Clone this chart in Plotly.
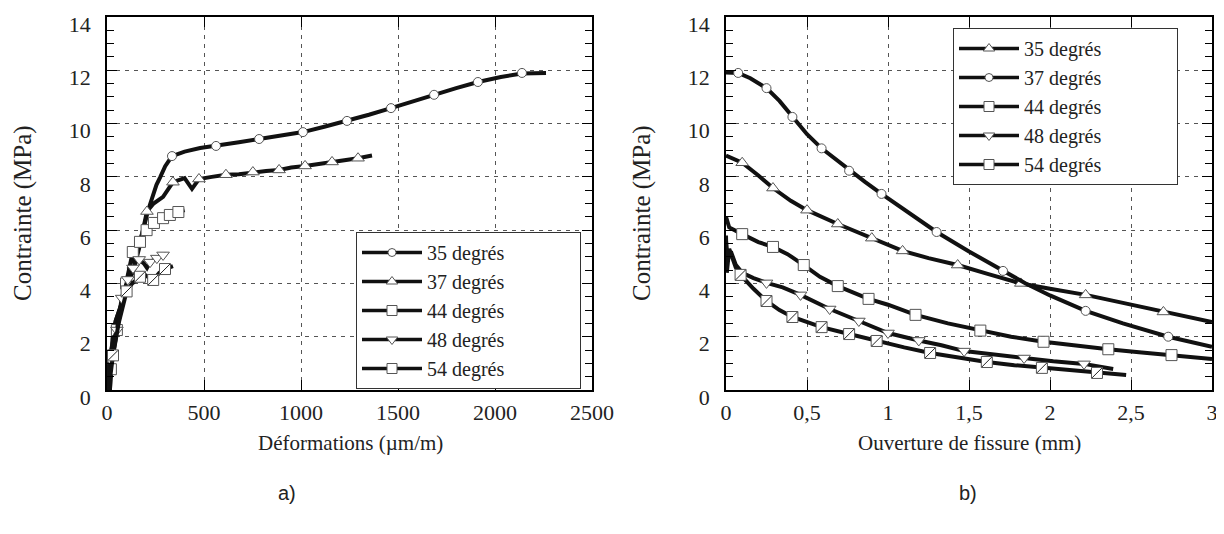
import plotly.graph_objects as go

# ---- a) Contrainte vs Deformations (um/m) ----
a35_x = [15, 22, 30, 45, 65, 90, 115, 128, 150, 170, 190, 210, 230, 255, 275, 300, 335, 400, 480, 562, 680, 784, 900,
         1010, 1120, 1237, 1350, 1464, 1580, 1686, 1800, 1912, 2030, 2139, 2200, 2263]
a35_y = [0, 1.0, 2.0, 2.6, 3.0, 3.5, 4.1, 4.58, 5.1, 5.6, 6.1, 6.7, 7.2, 7.7, 8.0, 8.4, 8.78, 8.95, 9.08, 9.16, 9.3, 9.42,
         9.55, 9.68, 9.88, 10.1, 10.33, 10.58, 10.85, 11.08, 11.33, 11.56, 11.75, 11.88, 11.88, 11.9]
a35_mx = [128, 335, 562, 784, 1010, 1237, 1464, 1686, 1912, 2139]
a35_my = [4.58, 8.78, 9.16, 9.42, 9.68, 10.1, 10.58, 11.08, 11.56, 11.9]

a37_x = [15, 22, 30, 45, 65, 90, 115, 140, 165, 185, 206, 240, 289, 340, 400, 438, 474, 540, 613, 680, 752, 820, 887,
         950, 1021, 1090, 1160, 1230, 1294, 1366]
a37_y = [0, 1.0, 2.0, 2.6, 3.0, 3.5, 4.0, 4.6, 5.3, 6.0, 6.7, 7.0, 7.25, 7.8, 7.95, 7.55, 7.92, 8.0, 8.08, 8.1, 8.18,
         8.22, 8.26, 8.35, 8.41, 8.48, 8.56, 8.62, 8.7, 8.8]
a37_mx = [206, 340, 474, 613, 752, 887, 1021, 1160, 1294]
a37_my = [6.7, 7.8, 7.92, 8.08, 8.18, 8.26, 8.41, 8.56, 8.7]

a44_x = [10, 20, 35, 51, 75, 98, 115, 133, 150, 170, 204, 242, 289, 324, 368, 400]
a44_y = [0, 0.78, 1.5, 2.25, 3.2, 4.0, 4.6, 5.18, 5.4, 5.56, 6.0, 6.27, 6.45, 6.57, 6.68, 6.75]
a44_mx = [20, 51, 98, 133, 170, 204, 242, 289, 324, 368]
a44_my = [0.78, 2.25, 4.0, 5.18, 5.56, 6.0, 6.27, 6.45, 6.57, 6.68]

a48_x = [5, 12, 30, 51, 76, 107, 134, 153, 166, 190, 206, 222, 257, 289, 305]
a48_y = [0, 1.2, 1.8, 2.25, 3.45, 4.15, 4.58, 4.88, 4.9, 4.75, 4.58, 4.8, 4.95, 5.07, 5.1]
a48_mx = [12, 51, 76, 107, 134, 166, 222, 257, 289]
a48_my = [1.2, 2.25, 3.45, 4.15, 4.58, 4.9, 4.8, 4.95, 5.07]

a54_x = [8, 31, 60, 101, 130, 170, 200, 238, 270, 299, 340]
a54_y = [0, 1.3, 2.5, 3.7, 4.0, 4.25, 4.3, 4.13, 4.4, 4.54, 4.65]
a54_mx = [31, 101, 170, 238, 299]
a54_my = [1.3, 3.7, 4.25, 4.13, 4.54]

# ---- b) Contrainte vs Ouverture de fissure (mm) ----
b35_x = [0, 0.1, 0.2, 0.29, 0.4, 0.5, 0.69, 0.9, 1.09, 1.25, 1.43, 1.62, 1.82, 2.0, 2.22, 2.45, 2.70, 3.0]
b35_y = [8.8, 8.53, 8.05, 7.58, 7.1, 6.75, 6.23, 5.7, 5.22, 4.95, 4.69, 4.35, 4.0, 3.8, 3.57, 3.27, 2.93, 2.55]
b35_mx = [0.1, 0.29, 0.5, 0.69, 0.9, 1.09, 1.43, 1.82, 2.22, 2.70]
b35_my = [8.53, 7.58, 6.75, 6.23, 5.7, 5.22, 4.69, 4.0, 3.57, 2.93]

b37_x = [0, 0.075, 0.15, 0.25, 0.33, 0.41, 0.5, 0.59, 0.68, 0.76, 0.86, 0.96, 1.13, 1.30, 1.5, 1.71, 1.85, 2.0, 2.22,
         2.45, 2.73, 3.0]
b37_y = [11.92, 11.9, 11.7, 11.33, 10.85, 10.25, 9.6, 9.07, 8.65, 8.23, 7.8, 7.36, 6.65, 5.93, 5.2, 4.47, 4.0, 3.55,
         2.97, 2.5, 2.0, 1.62]
b37_mx = [0.075, 0.25, 0.41, 0.59, 0.76, 0.96, 1.30, 1.71, 2.22, 2.73]
b37_my = [11.9, 11.33, 10.25, 9.07, 8.23, 7.36, 5.93, 4.47, 2.97, 2.0]

b44_x = [0, 0.02, 0.1, 0.2, 0.29, 0.38, 0.48, 0.58, 0.69, 0.88, 1.0, 1.17, 1.37, 1.57, 1.76, 1.96, 2.16, 2.36, 2.55,
         2.75, 3.0]
b44_y = [6.5, 6.1, 5.85, 5.55, 5.37, 5.1, 4.69, 4.25, 3.9, 3.42, 3.2, 2.82, 2.5, 2.23, 2.0, 1.81, 1.66, 1.53, 1.42,
         1.31, 1.16]
b44_mx = [0.1, 0.29, 0.48, 0.69, 0.88, 1.17, 1.57, 1.96, 2.36, 2.75]
b44_my = [5.85, 5.37, 4.69, 3.9, 3.42, 2.82, 2.23, 1.81, 1.53, 1.31]

b48_x = [0, 0.01, 0.03, 0.06, 0.1, 0.17, 0.25, 0.35, 0.46, 0.64, 0.82, 1.0, 1.19, 1.33, 1.47, 1.65, 1.84, 2.02, 2.21,
         2.39]
b48_y = [5.6, 4.9, 5.2, 4.7, 4.4, 4.2, 4.02, 3.85, 3.57, 3.04, 2.59, 2.14, 1.86, 1.68, 1.46, 1.32, 1.2, 1.08, 0.98, 0.79]
b48_mx = [0.25, 0.46, 0.64, 0.82, 1.0, 1.19, 1.47, 1.84, 2.21]
b48_my = [4.02, 3.57, 3.04, 2.59, 2.14, 1.86, 1.46, 1.2, 0.98]

b54_x = [0, 0.005, 0.02, 0.04, 0.06, 0.09, 0.17, 0.25, 0.33, 0.41, 0.5, 0.59, 0.76, 0.93, 1.1, 1.26, 1.44, 1.61, 1.78,
         1.95, 2.12, 2.29, 2.47]
b54_y = [5.8, 4.4, 5.3, 4.9, 4.6, 4.32, 3.8, 3.34, 3.0, 2.74, 2.55, 2.36, 2.1, 1.84, 1.6, 1.39, 1.2, 1.05, 0.93, 0.83,
         0.73, 0.64, 0.56]
b54_mx = [0.09, 0.25, 0.41, 0.59, 0.76, 0.93, 1.26, 1.61, 1.95, 2.29]
b54_my = [4.32, 3.34, 2.74, 2.36, 2.1, 1.84, 1.39, 1.05, 0.83, 0.64]

b_xticks = [0, 0.5, 1, 1.5, 2, 2.5, 3]
b_xticktext = ['0', '0,5', '1', '1,5', '2', '2,5', '3']

SERIF = 'Liberation Serif'
SANS = 'Liberation Sans'
TXT = '#222222'
LINE = '#111111'
EDGE = '#555555'

W, H = 1224, 534
OFF = 8  # page body margin that shifts the whole figure


def fx(px):
    return (px - OFF) / W


def fy(py):
    return 1 - (py - OFF) / H


SIZES = {'circle': 9, 'triangle-up': 11, 'square': 11, 'triangle-down': 11, 'slash': 11}

fig = go.Figure()


def add_series(x, y, mx, my, name, symbol, xa, ya, legend, rank):
    sym = 'square' if symbol == 'slash' else symbol
    size = SIZES[symbol]
    fig.add_trace(go.Scatter(x=x, y=y, mode='lines', line=dict(color=LINE, width=4),
                             xaxis=xa, yaxis=ya, showlegend=False, hoverinfo='skip'))
    fig.add_trace(go.Scatter(x=mx, y=my, mode='markers', xaxis=xa, yaxis=ya, showlegend=False,
                             marker=dict(symbol=sym, size=size, color='white', line=dict(color=EDGE, width=1))))
    if symbol == 'slash':
        fig.add_trace(go.Scatter(x=mx, y=my, mode='markers', xaxis=xa, yaxis=ya, showlegend=False,
                                 marker=dict(symbol='line-ne', size=size - 1, line=dict(color='#222222', width=1))))
    # legend entry only
    fig.add_trace(go.Scatter(x=[None], y=[None], mode='lines+markers', name=name + '\u00a0' * 14,
                             xaxis=xa, yaxis=ya, legend=legend, legendrank=rank,
                             line=dict(color=LINE, width=3.5),
                             marker=dict(symbol=sym, size=size - 1, color='white', line=dict(color=EDGE, width=1))))


add_series(a35_x, a35_y, a35_mx, a35_my, '35 degrés', 'circle', 'x', 'y', 'legend', 1)
add_series(a37_x, a37_y, a37_mx, a37_my, '37 degrés', 'triangle-up', 'x', 'y', 'legend', 2)
add_series(a44_x, a44_y, a44_mx, a44_my, '44 degrés', 'square', 'x', 'y', 'legend', 3)
add_series(a48_x, a48_y, a48_mx, a48_my, '48 degrés', 'triangle-down', 'x', 'y', 'legend', 4)
add_series(a54_x, a54_y, a54_mx, a54_my, '54 degrés', 'slash', 'x', 'y', 'legend', 5)

add_series(b35_x, b35_y, b35_mx, b35_my, '35 degrés', 'triangle-up', 'x2', 'y2', 'legend2', 1)
add_series(b37_x, b37_y, b37_mx, b37_my, '37 degrés', 'circle', 'x2', 'y2', 'legend2', 2)
add_series(b44_x, b44_y, b44_mx, b44_my, '44 degrés', 'square', 'x2', 'y2', 'legend2', 3)
add_series(b48_x, b48_y, b48_mx, b48_my, '48 degrés', 'triangle-down', 'x2', 'y2', 'legend2', 4)
add_series(b54_x, b54_y, b54_mx, b54_my, '54 degrés', 'slash', 'x2', 'y2', 'legend2', 5)

axis_common = dict(
    showline=True, linecolor='black', linewidth=1.5, mirror='ticks',
    ticks='inside', ticklen=10, tickwidth=1, tickcolor='black',
    showgrid=True, gridcolor='#555555', griddash='4px,5px', gridwidth=1,
    zeroline=False, tickfont=dict(family=SERIF, size=22, color=TXT),
    automargin=False,
)
xaxis_common = dict(axis_common, ticklabelstandoff=2)
yaxis_common = dict(axis_common, range=[0, 14], dtick=2, ticklabelstandoff=10, ticklabelshift=7,
                    minor=dict(dtick=0.5, ticks='inside', ticklen=7, tickcolor='black', showgrid=False))

legend_common = dict(font=dict(family=SERIF, size=20, color=TXT), bgcolor='white',
                     bordercolor='#333333', borderwidth=1, tracegroupgap=0, itemwidth=60,
                     xanchor='left', yanchor='top')


def paper_text(text, px, py, family=SERIF, size=21, angle=0):
    return dict(text=text, x=fx(px), y=fy(py), xref='paper', yref='paper', textangle=angle,
                xanchor='center', yanchor='middle', showarrow=False,
                font=dict(family=family, size=size, color=TXT))


fig.update_layout(
    width=W, height=H,
    margin=dict(l=0, r=0, t=0, b=0, autoexpand=False),
    paper_bgcolor='white', plot_bgcolor='white',
    xaxis=dict(xaxis_common, domain=[fx(107), fx(592)], range=[0, 2500], dtick=500, anchor='y'),
    yaxis=dict(yaxis_common, domain=[fy(390), fy(17)], anchor='x'),
    xaxis2=dict(xaxis_common, domain=[fx(726), fx(1212)], range=[0, 3],
                tickvals=b_xticks, ticktext=b_xticktext, anchor='y2'),
    yaxis2=dict(yaxis_common, domain=[fy(390), fy(17)], anchor='x2'),
    legend=dict(legend_common, x=fx(356), y=fy(232)),
    legend2=dict(legend_common, x=fx(953), y=fy(28)),
    annotations=[
        paper_text('Contrainte (MPa)', 23, 213, size=25, angle=-90),
        paper_text('Contrainte (MPa)', 642, 213, size=25, angle=-90),
        paper_text('Déformations (µm/m)', 350, 443),
        paper_text('Ouverture de fissure (mm)', 969, 443),
        paper_text('a)', 287, 493, family=SANS, size=20),
        paper_text('b)', 968, 493, family=SANS, size=20),
    ],
)

fig.write_html("out.html")
